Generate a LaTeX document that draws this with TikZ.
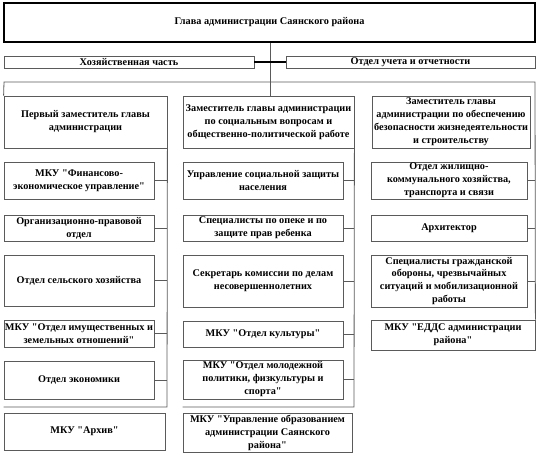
\documentclass[tikz,border=0pt]{standalone}
\usepackage{fontspec}
\setmainfont{Liberation Serif}[Ligatures=TeXOff]
\definecolor{linegray}{HTML}{5A5A5A}
\tikzset{
  box/.style={draw=linegray, line width=0.8bp, inner sep=0pt, align=center,
    font=\fontsize{10.3}{13}\selectfont\bfseries},
  mainbox/.style={box, draw=black, line width=1.6bp},
  conn/.style={draw=linegray, line width=0.8bp},
  thickconn/.style={draw=black, line width=1.6bp}
}
\newcommand\orgbox[7][]{%
  \node[box,#1,minimum width={(#5-#3)*1bp},minimum height={(#6-#4)*1bp}]
    (#2) at ({(#3+#5)/2},{(#4+#6)/2}) {#7};}
\begin{document}
\begin{tikzpicture}[x=1bp,y=-1bp]
\useasboundingbox (0,0) rectangle (539,457);
% top level
\orgbox[mainbox]{top}{4}{3}{535}{42}{Глава администрации Саянского района}
\orgbox{hoz}{4}{56}{254}{68}{Хозяйственная часть}
\orgbox{otd}{286}{56}{535}{68}{Отдел учета и отчетности}
% deputies
\orgbox{d1}{4}{96}{167}{148}{Первый заместитель главы\\администрации}
\orgbox{d2}{183}{96}{354}{148}{Заместитель главы администрации\\по социальным вопросам и\\общественно-политической работе}
\orgbox{d3}{372}{96}{530}{148}{Заместитель главы\\администрации по обеспечению\\безопасности жизнедеятельности\\и строительству}
% left column
\orgbox{l1}{4}{162}{154}{199}{МКУ "Финансово-\\экономическое управление"}
\orgbox{l2}{4}{215}{154}{241}{Организационно-правовой\\отдел}
\orgbox{l3}{4}{255}{154}{306}{Отдел сельского хозяйства}
\orgbox{l4}{4}{320}{154}{347}{МКУ "Отдел имущественных и\\земельных отношений"}
\orgbox{l5}{4}{361}{154}{399}{Отдел экономики}
\orgbox{l6}{4}{413}{165}{450}{МКУ "Архив"}
% middle column
\orgbox{m1}{183}{162}{343}{199}{Управление социальной защиты\\населения}
\orgbox{m2}{183}{215}{343}{241}{Специалисты по опеке и по\\защите прав ребенка}
\orgbox{m3}{183}{255}{343}{307}{Секретарь комиссии по делам\\несовершеннолетних}
\orgbox{m4}{183}{321}{343}{347}{МКУ "Отдел культуры"}
\orgbox{m5}{183}{360}{343}{399}{МКУ "Отдел молодежной\\политики, физкультуры и\\спорта"}
\orgbox{m6}{183}{413}{352}{452}{МКУ "Управление образованием\\администрации Саянского\\района"}
% right column
\orgbox{r1}{371}{162}{527}{199}{Отдел жилищно-\\коммунального хозяйства,\\транспорта и связи}
\orgbox{r2}{371}{215}{527}{241}{Архитектор}
\orgbox{r3}{371}{255}{527}{307}{Специалисты гражданской\\обороны, чрезвычайных\\ситуаций и мобилизационной\\работы}
\orgbox{r4}{371}{320}{535}{350}{МКУ "ЕДДС администрации\\района"}
% coordinates
\coordinate (ftl) at (4,82);
\coordinate (ftr) at (535,82);
\coordinate (lb) at (167,407);
\coordinate (mb) at (354,407);
% connectors
\draw[conn] (top.south -| 270,0) -- (d2.north -| 270,0);
\draw[thickconn] (hoz.east) -- (otd.west);
\draw[conn] (d1.north west) -- (ftl) -- (ftr) -- (r4.north east);
\draw[conn] (d1.south east) -- (lb) -- (lb -| d1.west);
\draw[conn] (d2.south east) -- (mb) -- (mb -| d2.west);
\foreach \n in {l1,l2,l3,l4,l5}{\draw[conn] (\n.east) -- (\n.east -| d1.east);}
\foreach \n in {m1,m2,m3,m4,m5}{\draw[conn] (\n.east) -- (\n.east -| d2.east);}
\foreach \n in {r1,r2,r3}{\draw[conn] (\n.east) -- (\n.east -| ftr);}
\end{tikzpicture}
\end{document}
